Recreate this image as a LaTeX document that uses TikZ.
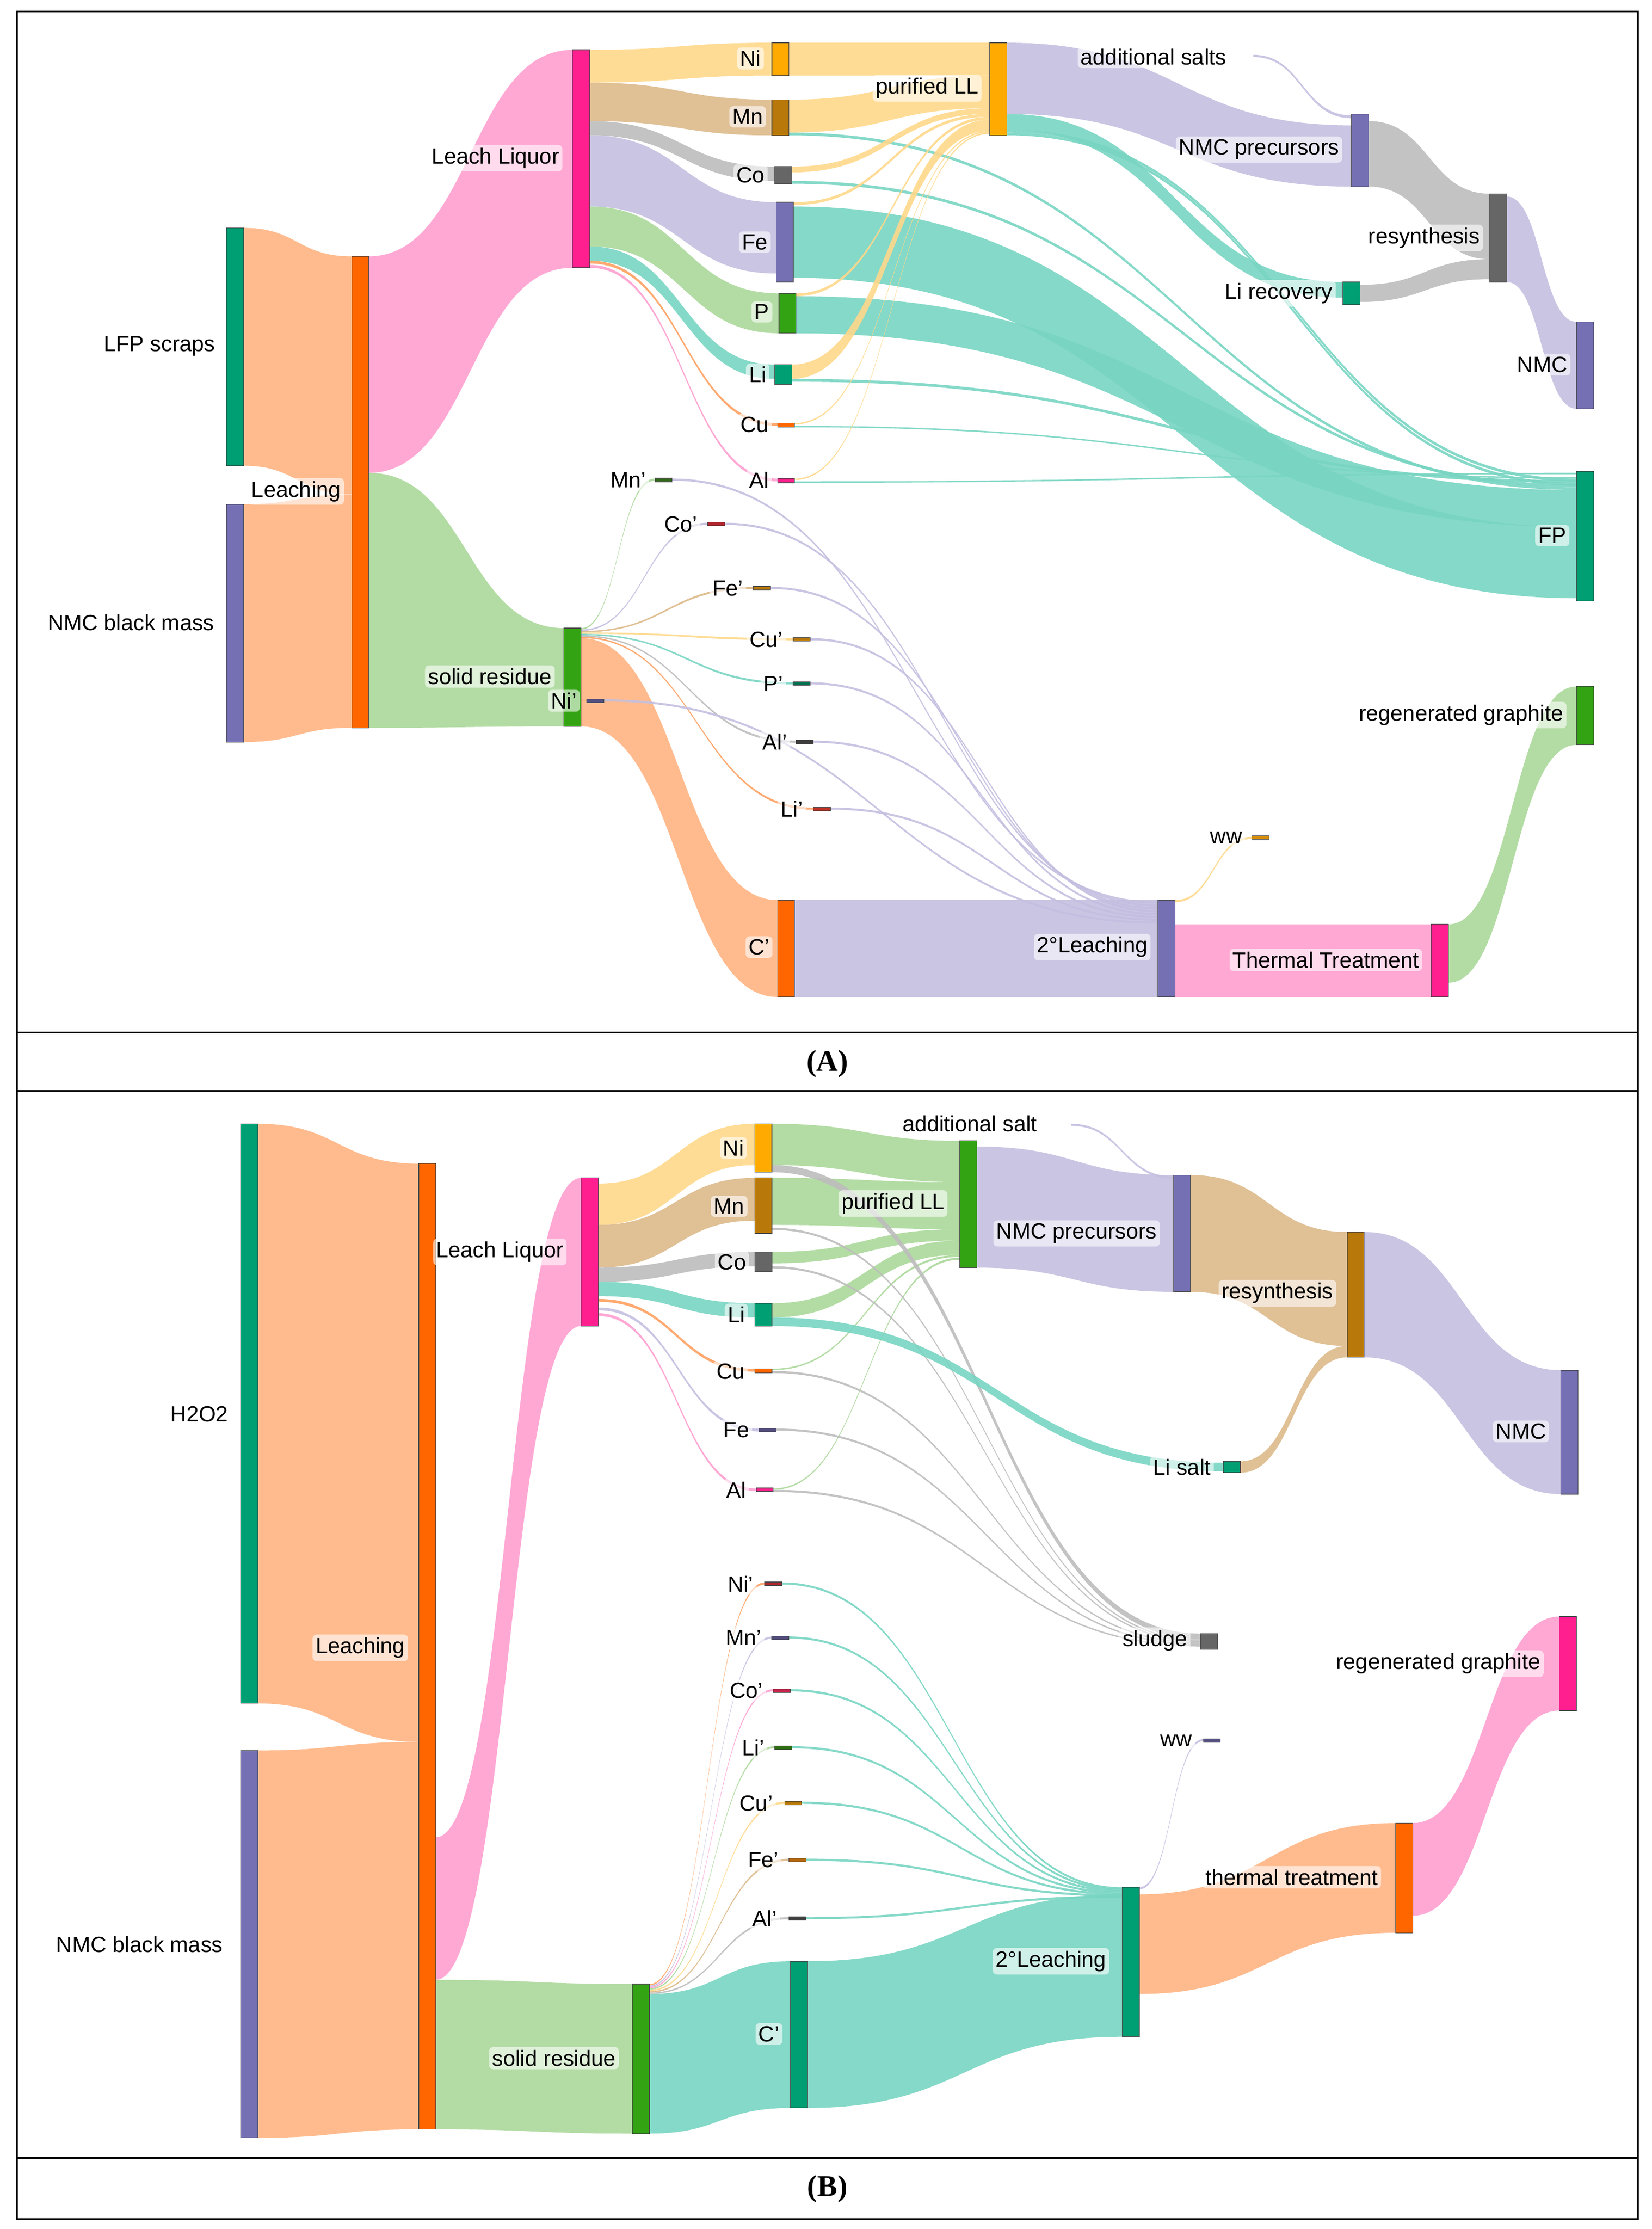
\documentclass[tikz,border=0pt]{standalone}
\usepackage{fontspec}
\setmainfont{Liberation Serif}
\setsansfont{Liberation Sans}
\usepackage{tikz}
\definecolor{nteal}{HTML}{009E73}
\definecolor{npurple}{HTML}{7570B3}
\definecolor{norange}{HTML}{FF6600}
\definecolor{npink}{HTML}{FF1F8E}
\definecolor{ngreen}{HTML}{33A314}
\definecolor{ngold}{HTML}{FFAA00}
\definecolor{nbrown}{HTML}{B8780A}
\definecolor{ngray}{HTML}{666666}
\definecolor{nred}{HTML}{B3262E}
\definecolor{ndkgreen}{HTML}{2E6B12}
\definecolor{fpeach}{HTML}{FFB482}
\definecolor{fpink}{HTML}{FF9FCF}
\definecolor{fgreen}{HTML}{ABD89A}
\definecolor{fgold}{HTML}{FFD88A}
\definecolor{ftan}{HTML}{DDB98A}
\definecolor{fgray}{HTML}{BDBDBD}
\definecolor{fpurple}{HTML}{C4BFE0}
\definecolor{fteal}{HTML}{78D5C2}
\definecolor{forange}{HTML}{FFA060}
\tikzset{
  bar/.style={draw=black!70, line width=0.3pt, inner sep=0pt, minimum width=0.3cm},
  lbl/.style={fill=white, fill opacity=0.6, text opacity=1, rounded corners=2pt,
    inner sep=1.5pt, font=\sffamily\fontsize{11}{13}\selectfont},
  capt/.style={font=\rmfamily\bfseries\fontsize{15}{17}\selectfont}
}
% band between two node faces
\newcommand\flow[7]{\pgfmathsetmacro\xm{(#1+#4)/2}
  \fill[#7, fill opacity=0.9] (#1,#2) .. controls (\xm,#2) and (\xm,#5) .. (#4,#5)
    -- (#4,#6) .. controls (\xm,#6) and (\xm,#3) .. (#1,#3) -- cycle;}
% bar node: name, left x, top, bottom, colour
\newcommand\sknode[5]{\node[bar, fill=#5, minimum height={max(#4-#3,2.5)*0.025cm}]
  (#1) at ({#2+6},{(#3+#4)/2}) {};}
\begin{document}
\begin{tikzpicture}[x=0.025cm, y=-0.025cm]
\useasboundingbox (0,0) rectangle (1160,1565);
% frame
\draw[line width=0.8pt] (12,8) rectangle (1150,1558);
\draw[line width=0.8pt] (12,725) -- (1150,725);
\draw[line width=0.8pt] (12,766) -- (1150,766);
\draw[line width=0.8pt] (12,1515) -- (1150,1515);
\node[capt] (capA) at (581,747) {(A)};
\node[capt] (capB) at (581,1537) {(B)};

% ---------------- panel A: flows ----------------
\flow{171}{160}{327}{247}{180}{347}{fpeach}
\flow{171}{354}{521}{247}{347}{511}{fpeach}
\flow{259}{180}{332}{402}{35}{188}{fpink}
\flow{259}{332}{511}{396}{441}{510}{fgreen}
\flow{414}{35}{58}{542}{30}{53}{fgold}
\flow{414}{58}{85}{542}{70}{95}{ftan}
\flow{414}{85}{95}{544}{117}{127}{fgray}
\flow{414}{95}{145}{545}{142}{192}{fpurple}
\flow{414}{145}{173}{547}{206}{234}{fgreen}
\flow{414}{173}{183}{544}{256}{266}{fteal}
\flow{414}{183}{185}{546}{297}{299}{forange}
\flow{414}{186}{188}{546}{336}{338}{fpink}
\flow{557}{145}{195}{1107}{370}{420}{fteal}
\flow{559}{208}{234}{1107}{344}{370}{fteal}
\flow{554}{93}{95}{1107}{342}{344}{fteal}
\flow{556}{127}{129}{1107}{340}{342}{fteal}
\flow{556}{266}{268}{1107}{337}{339}{fteal}
\flow{558}{299}{300}{1107}{335}{336}{fteal}
\flow{558}{338}{339}{1107}{332}{333}{fteal}
\flow{554}{30}{53}{695}{30}{53}{fgold}
\flow{554}{70}{93}{695}{53}{76}{fgold}
\flow{556}{117}{121}{695}{76}{80}{fgold}
\flow{557}{142}{144}{695}{80}{82}{fgold}
\flow{559}{206}{208}{695}{82}{84}{fgold}
\flow{556}{256}{266}{695}{84}{92}{fgold}
\flow{558}{297}{298}{695}{92}{93}{fgold}
\flow{558}{336}{337}{695}{93}{94}{fgold}
\flow{707}{30}{80}{949}{88}{131}{fpurple}
\flow{707}{80}{91}{943}{198}{209}{fteal}
\flow{707}{91}{93}{1107}{336}{338}{fteal}
\flow{707}{93}{95}{1107}{339}{341}{fteal}
\coordinate (A-salt) at (880,39);
\flow{880}{38.5}{40}{949}{81}{83}{fpurple}
\flow{961}{85}{131}{1046}{136}{182}{fgray}
\flow{955}{200}{212}{1046}{182}{196}{fgray}
\flow{1058}{138}{198}{1107}{226}{287}{fpurple}
\flow{408}{441}{442}{460}{336}{337.5}{fgreen}
\flow{408}{442}{443}{497}{367}{368.5}{fpurple}
\flow{408}{443}{444}{529}{412}{413.5}{ftan}
\flow{408}{444}{445}{557}{448}{449.5}{fgold}
\flow{408}{445}{446}{557}{479}{480.5}{fteal}
\flow{408}{446}{447}{559}{520}{521.5}{fgray}
\flow{408}{447}{448}{571}{567}{568.5}{forange}
\flow{408}{491}{492.5}{412}{491}{492.5}{fpurple}
\flow{408}{448}{510}{546}{632}{700}{fpeach}
\flow{558}{632}{700}{813}{632}{700}{fpurple}
\flow{472}{336}{337.5}{813}{633}{634.5}{fpurple}
\flow{509}{367}{368.5}{813}{635}{636.5}{fpurple}
\flow{541}{412}{413.5}{813}{637}{638.5}{fpurple}
\flow{569}{448}{449.5}{813}{639}{640.5}{fpurple}
\flow{569}{479}{480.5}{813}{641}{642.5}{fpurple}
\flow{571}{520}{521.5}{813}{643}{644.5}{fpurple}
\flow{583}{567}{568.5}{813}{645}{646.5}{fpurple}
\flow{424}{491}{492.5}{813}{647}{648.5}{fpurple}
\flow{825}{632}{633.5}{879}{587.5}{589}{fgold}
\flow{825}{649}{700}{1005}{649}{700}{fpink}
\flow{1017}{649}{690}{1107}{482}{523}{fgreen}

% ---------------- panel A: nodes ----------------
\sknode{A-lfp}{159}{160}{327}{nteal}
\sknode{A-nmcbm}{159}{354}{521}{npurple}
\sknode{A-leach}{247}{180}{511}{norange}
\sknode{A-ll}{402}{35}{188}{npink}
\sknode{A-sr}{396}{441}{510}{ngreen}
\sknode{A-ni}{542}{30}{53}{ngold}
\sknode{A-mn}{542}{70}{95}{nbrown}
\sknode{A-co}{544}{117}{129}{ngray}
\sknode{A-fe}{545}{142}{198}{npurple}
\sknode{A-p}{547}{206}{234}{ngreen}
\sknode{A-li}{544}{256}{270}{nteal}
\sknode{A-cu}{546}{297}{300}{norange}
\sknode{A-al}{546}{336}{339}{npink}
\sknode{A-pll}{695}{30}{95}{ngold}
\sknode{A-nmcp}{949}{80}{131}{npurple}
\sknode{A-lirec}{943}{198}{214}{nteal}
\sknode{A-resyn}{1046}{136}{198}{ngray}
\sknode{A-nmc}{1107}{226}{287}{npurple}
\sknode{A-fp}{1107}{331}{422}{nteal}
\sknode{A-mn2}{460}{336}{338}{ndkgreen}
\sknode{A-co2}{497}{367}{369}{nred}
\sknode{A-fe2}{529}{412}{414}{nbrown}
\sknode{A-cu2}{557}{448}{450}{nbrown}
\sknode{A-p2}{557}{479}{481}{nteal!70!black}
\sknode{A-al2}{559}{520}{522}{ngray!60!black}
\sknode{A-li2}{571}{567}{569}{nred!80!norange}
\sknode{A-ni2}{412}{491}{493}{npurple!70!black}
\sknode{A-c2}{546}{632}{700}{norange}
\sknode{A-leach2}{813}{632}{700}{npurple}
\sknode{A-ww}{879}{587}{589}{nbrown!60!ngold}
\sknode{A-tt}{1005}{649}{700}{npink}
\sknode{A-rg}{1107}{482}{523}{ngreen}

% ---------------- panel A: labels ----------------
\node[lbl] at (112,243) {LFP scraps};
\node[lbl] at (92,437) {NMC black mass};
\node[lbl] at (208,345) {Leaching};
\node[lbl] at (348,111) {Leach Liquor};
\node[lbl] at (344,475) {solid residue};
\node[lbl] at (527,41) {Ni};
\node[lbl] at (525,82) {Mn};
\node[lbl] at (527,123) {Co};
\node[lbl] at (530,170) {Fe};
\node[lbl] at (535,219) {P};
\node[lbl] at (532,263) {Li};
\node[lbl] at (530,298) {Cu};
\node[lbl] at (533,337) {Al};
\node[lbl] at (651,62) {purified LL};
\node[lbl] at (810,40) {additional salts};
\node[lbl] at (884,105) {NMC precursors};
\node[lbl] at (1000,167) {resynthesis};
\node[lbl] at (898,206) {Li recovery};
\node[lbl] at (1083,256) {NMC};
\node[lbl] at (1090,376) {FP};
\node[lbl] at (441,337) {Mn'};
\node[lbl] at (478,368) {Co'};
\node[lbl] at (511,413) {Fe'};
\node[lbl] at (538,449) {Cu'};
\node[lbl] at (543,480) {P'};
\node[lbl] at (544,521) {Al'};
\node[lbl] at (556,568) {Li'};
\node[lbl] at (396,492) {Ni'};
\node[lbl] at (533,665) {C'};
\node[lbl] at (767,665) {2°Leaching};
\node[lbl] at (861,588) {ww};
\node[lbl] at (931,674) {Thermal Treatment};
\node[lbl] at (1026,502) {regenerated graphite};

% ---------------- panel B: flows ----------------
\flow{181}{789}{1196}{294}{817}{1223}{fpeach}
\flow{181}{1229}{1501}{294}{1223}{1495}{fpeach}
\flow{306}{1290}{1390}{408}{827}{931}{fpink}
\flow{306}{1390}{1495}{444}{1393}{1498}{fgreen}
\flow{420}{831}{860}{530}{789}{818}{fgold}
\flow{420}{860}{890}{530}{827}{857}{ftan}
\flow{420}{890}{900}{530}{879}{889}{fgray}
\flow{420}{900}{910}{530}{915}{925}{fteal}
\flow{420}{912}{914}{530}{961}{963}{forange}
\flow{420}{918}{920}{533}{1003}{1005}{fpurple}
\flow{420}{922}{924}{531}{1045}{1047}{fpink}
\flow{542}{789}{818}{674}{801}{830}{fgreen}
\flow{542}{827}{860}{674}{830}{863}{fgreen}
\flow{542}{879}{887}{674}{863}{871}{fgreen}
\flow{542}{915}{925}{674}{871}{881}{fgreen}
\flow{542}{961}{962}{674}{881}{882.5}{fgreen}
\flow{543}{1045}{1046}{674}{883}{884.5}{fgreen}
\flow{542}{818}{823}{843}{1147}{1151}{fgray}
\flow{542}{862}{863.5}{843}{1151}{1152}{fgray}
\flow{542}{889}{890.5}{843}{1152}{1153}{fgray}
\flow{542}{962.5}{964}{843}{1153}{1154}{fgray}
\flow{545}{1003}{1004.5}{843}{1154}{1155}{fgray}
\flow{543}{1046}{1047.5}{843}{1155}{1156}{fgray}
\flow{542}{925}{931}{859}{1027}{1033}{fteal}
\flow{686}{805}{890}{824}{825}{907}{fpurple}
\coordinate (B-salt) at (752,790);
\flow{752}{789}{790.5}{824}{826}{827.5}{fpurple}
\flow{836}{825}{907}{946}{865}{945}{ftan}
\flow{871}{1026}{1034}{946}{945}{953}{ftan}
\flow{958}{865}{953}{1096}{962}{1049}{fpurple}
\flow{456}{1393}{1394}{537}{1111}{1112.5}{forange}
\flow{456}{1394}{1395}{542}{1149}{1150.5}{fpurple}
\flow{456}{1395}{1396}{543}{1186}{1187.5}{fpink}
\flow{456}{1396}{1397}{544}{1226}{1227.5}{fgreen}
\flow{456}{1397}{1398}{551}{1265}{1266.5}{fgold}
\flow{456}{1398}{1399}{554}{1305}{1306.5}{ftan}
\flow{456}{1399}{1400}{554}{1346}{1347.5}{fgray}
\flow{456}{1400}{1498}{555}{1377}{1480}{fteal}
\flow{549}{1111}{1112.5}{788}{1325}{1326.5}{fteal}
\flow{554}{1149}{1150.5}{788}{1326}{1327.5}{fteal}
\flow{555}{1186}{1187.5}{788}{1327}{1328.5}{fteal}
\flow{556}{1226}{1227.5}{788}{1328}{1329.5}{fteal}
\flow{563}{1265}{1266.5}{788}{1329}{1330.5}{fteal}
\flow{566}{1305}{1306.5}{788}{1330}{1331.5}{fteal}
\flow{566}{1346}{1347.5}{788}{1331}{1332.5}{fteal}
\flow{567}{1377}{1480}{788}{1330}{1430}{fteal}
\flow{800}{1325}{1326.5}{845}{1221}{1222.5}{fpurple}
\flow{800}{1330}{1400}{980}{1280}{1357}{fpeach}
\flow{992}{1280}{1345}{1095}{1135}{1201}{fpink}

% ---------------- panel B: nodes ----------------
\sknode{B-h2o2}{169}{789}{1196}{nteal}
\sknode{B-nmcbm}{169}{1229}{1501}{npurple}
\sknode{B-leach}{294}{817}{1495}{norange}
\sknode{B-ll}{408}{827}{931}{npink}
\sknode{B-sr}{444}{1393}{1498}{ngreen}
\sknode{B-ni}{530}{789}{823}{ngold}
\sknode{B-mn}{530}{827}{866}{nbrown}
\sknode{B-co}{530}{879}{893}{ngray}
\sknode{B-li}{530}{915}{931}{nteal}
\sknode{B-cu}{530}{961}{964}{norange}
\sknode{B-fe}{533}{1003}{1005}{npurple!70!black}
\sknode{B-al}{531}{1045}{1047}{npink}
\sknode{B-pll}{674}{801}{890}{ngreen}
\sknode{B-nmcp}{824}{825}{907}{npurple}
\sknode{B-resyn}{946}{865}{953}{nbrown}
\sknode{B-lisalt}{859}{1026}{1034}{nteal}
\sknode{B-nmc}{1096}{962}{1049}{npurple}
\sknode{B-sludge}{843}{1147}{1158}{ngray}
\sknode{B-ni2}{537}{1111}{1113}{nred}
\sknode{B-mn2}{542}{1149}{1151}{npurple!70!black}
\sknode{B-co2}{543}{1186}{1188}{nred!70!npink}
\sknode{B-li2}{544}{1226}{1228}{ndkgreen}
\sknode{B-cu2}{551}{1265}{1267}{nbrown}
\sknode{B-fe2}{554}{1305}{1307}{nbrown!80!nred}
\sknode{B-al2}{554}{1346}{1348}{ngray!60!black}
\sknode{B-c2}{555}{1377}{1480}{nteal}
\sknode{B-leach2}{788}{1325}{1430}{nteal}
\sknode{B-ww}{845}{1221}{1223}{npurple!70!black}
\sknode{B-tt}{980}{1280}{1357}{norange}
\sknode{B-rg}{1095}{1135}{1201}{npink}

% ---------------- panel B: labels ----------------
\node[lbl] at (140,993) {H2O2};
\node[lbl] at (98,1365) {NMC black mass};
\node[lbl] at (253,1157) {Leaching};
\node[lbl] at (351,879) {Leach Liquor};
\node[lbl] at (389,1445) {solid residue};
\node[lbl] at (515,806) {Ni};
\node[lbl] at (512,847) {Mn};
\node[lbl] at (514,886) {Co};
\node[lbl] at (517,923) {Li};
\node[lbl] at (513,963) {Cu};
\node[lbl] at (517,1004) {Fe};
\node[lbl] at (517,1046) {Al};
\node[lbl] at (681,789) {additional salt};
\node[lbl] at (627,845) {purified LL};
\node[lbl] at (756,866) {NMC precursors};
\node[lbl] at (897,908) {resynthesis};
\node[lbl] at (830,1030) {Li salt};
\node[lbl] at (1068,1005) {NMC};
\node[lbl] at (811,1152) {sludge};
\node[lbl] at (520,1112) {Ni'};
\node[lbl] at (522,1150) {Mn'};
\node[lbl] at (524,1187) {Co'};
\node[lbl] at (529,1227) {Li'};
\node[lbl] at (531,1266) {Cu'};
\node[lbl] at (536,1306) {Fe'};
\node[lbl] at (537,1347) {Al'};
\node[lbl] at (540,1428) {C'};
\node[lbl] at (738,1377) {2°Leaching};
\node[lbl] at (826,1222) {ww};
\node[lbl] at (907,1318) {thermal treatment};
\node[lbl] at (1010,1168) {regenerated graphite};
\end{tikzpicture}
\end{document}
